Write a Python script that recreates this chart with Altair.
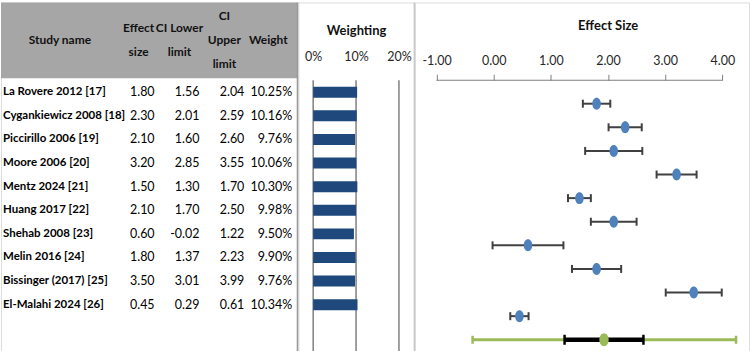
import altair as alt
import pandas as pd

# ---------------- data ----------------
studies = ["La Rovere 2012 [17]", "Cygankiewicz 2008 [18]", "Piccirillo 2006 [19]",
           "Moore 2006 [20]", "Mentz 2024 [21]", "Huang 2017 [22]", "Shehab 2008 [23]",
           "Melin 2016 [24]", "Bissinger (2017) [25]", "El-Malahi 2024 [26]"]
effect = [1.80, 2.30, 2.10, 3.20, 1.50, 2.10, 0.60, 1.80, 3.50, 0.45]
lower = [1.56, 2.01, 1.60, 2.85, 1.30, 1.70, -0.02, 1.37, 3.01, 0.29]
upper = [2.04, 2.59, 2.60, 3.55, 1.70, 2.50, 1.22, 2.23, 3.99, 0.61]
weight = [10.25, 10.16, 9.76, 10.06, 10.30, 9.98, 9.50, 9.90, 9.76, 10.34]

pooled_effect = 1.93
pooled_lower = 1.24
pooled_upper = 2.62
pred_lower = -0.37
pred_upper = 4.24

effect_ticks = [-1, 0, 1, 2, 3, 4]
weight_ticks = [0, 10, 20]

FONT = "Lato"

df = pd.DataFrame({"study": studies, "effect": effect, "lower": lower,
                   "upper": upper, "weight": weight})
df["row"] = list(range(len(studies)))

summary = pd.DataFrame({"effect": [pooled_effect], "lower": [pooled_lower],
                        "upper": [pooled_upper], "plo": [pred_lower], "phi": [pred_upper],
                        "row": [len(studies)]})

# ---------------- layout ----------------
H = 351
ROW_H = 23.67
TOP = 90.0
OFF = 11.5 / ROW_H
yscale = alt.Scale(domain=[-TOP / ROW_H, (H - TOP) / ROW_H], reverse=True, nice=False, zero=False)
Y = lambda f: alt.Y(f, type="quantitative", scale=yscale, axis=None)

one = pd.DataFrame({"a": [0]})

def fmt2(field):
    return (f"(datum.{field} < 0 ? '-' : '') + format(abs(datum.{field}), '.2f')")

# ---------------- table panel ----------------
base = alt.Chart(df)
hdr_bg = alt.Chart(one).mark_rect(color="#a6a6a6").encode(
    x=alt.value(0), x2=alt.value(297), y=alt.value(0), y2=alt.value(76))
border = alt.Chart(one).mark_rule(color="#9a9a9a", strokeWidth=2).encode(
    x=alt.value(297.5), y=alt.value(0), y2=alt.value(H))

def hdr(text, x, y, lh=24.2):
    return alt.Chart(one).mark_text(text=text, fontWeight="bold", fontSize=12, lineHeight=lh,
                                    align="center", baseline="middle", color="#111111").encode(
        x=alt.value(x), y=alt.value(y))

headers = [hdr("Study name", 59, 38), hdr(["Effect", "size"], 138, 25.7),
           hdr(["CI Lower", "limit"], 179, 25.7), hdr(["CI", "Upper", "limit"], 224, 13.4),
           hdr("Weight", 268, 38)]

names = base.mark_text(align="left", baseline="middle", fontWeight="bold", fontSize=11.5,
                       color="#000000").encode(x=alt.value(2), y=Y("row"), text="study:N")

def numcol(field, x):
    return base.transform_calculate(lbl=fmt2(field)).mark_text(
        align="right", baseline="middle", fontSize=12.5, color="#000000").encode(
        x=alt.value(x), y=Y("row"), text="lbl:N")

wcol = base.transform_calculate(wl="format(datum.weight, '.2f') + '%'").mark_text(
    align="right", baseline="middle", fontSize=12.5, color="#000000").encode(
    x=alt.value(292), y=Y("row"), text="wl:N")

table = alt.layer(hdr_bg, border, *headers, names, numcol("effect", 154),
                  numcol("lower", 199), numcol("upper", 244), wcol).properties(width=298, height=H)

# ---------------- weighting panel ----------------
wx = alt.Scale(domain=[-3.49, 23.72], nice=False, zero=False)
wax = alt.Axis(orient="top", values=weight_ticks, labelExpr="datum.value + '%'", ticks=False,
               domain=False, grid=False, offset=-78, labelPadding=24, labelBaseline="middle",
               labelFontSize=12.5, labelColor="#262626", labelFont=FONT,
               title="Weighting", titleFontSize=13, titleFontWeight="bold", titleColor="#111111",
               titleX=58, titleY=-49.5, titleBaseline="middle", titleAlign="center", titleFont=FONT)
grid = alt.Chart(pd.DataFrame({"g": weight_ticks})).mark_rule(color="#808080", strokeWidth=1.5).encode(
    x=alt.X("g:Q", scale=wx, axis=wax), y=alt.value(78), y2=alt.value(H))
bars = base.transform_calculate(z="0").mark_rule(color="#1f497d", strokeWidth=11).encode(
    x=alt.X("z:Q", scale=wx, axis=wax), x2="weight:Q", y=Y("row"))
divider = alt.Chart(one).mark_rule(color="#c4c4c4", strokeWidth=1.5).encode(
    x=alt.value(116.5), y=alt.value(0), y2=alt.value(H))
wpanel = alt.layer(grid, bars, divider).properties(width=117, height=H)

# ---------------- effect panel ----------------
ex = alt.Scale(domain=[-1.379, 4.467], nice=False, zero=False)
eax = alt.Axis(orient="top", values=effect_ticks,
               labelExpr="(datum.value < 0 ? '-' : '') + format(abs(datum.value), '.2f')",
               ticks=True, tickSize=6,
               tickColor="#808080", tickWidth=1, domain=False, grid=False, offset=-78,
               labelPadding=14, labelBaseline="middle", labelFontSize=12.5, labelColor="#262626",
               labelFont=FONT, title="Effect Size", titleFontSize=13, titleFontWeight="bold",
               titleColor="#111111", titleX=193.3, titleY=-54.5, titleBaseline="middle",
               titleAlign="center", titleFont=FONT)
X = lambda f: alt.X(f, type="quantitative", scale=ex, axis=eax)

ELLIPSE = "M0,-1A0.72,1,0,1,1,0,1A0.72,1,0,1,1,0,-1Z"
VLINE = "M0,-1L0,1"

axline = alt.Chart(pd.DataFrame({"a": [effect_ticks[0]], "b": [effect_ticks[-1]]})).mark_rule(
    color="#808080", strokeWidth=1).encode(x=X("a"), x2="b:Q", y=alt.value(78))

eb = base.transform_calculate(yd=f"datum.row + {OFF}")
ci = eb.mark_rule(color="#404040", strokeWidth=2).encode(x=X("lower"), x2="upper:Q", y=Y("yd"))
caps = eb.transform_fold(["lower", "upper"], as_=["k", "v"]).mark_point(
    shape=VLINE, size=64, filled=False, strokeWidth=2, color="#404040", opacity=1).encode(
    x=X("v"), y=Y("yd"))
dots = eb.mark_point(shape=ELLIPSE, size=144, filled=True, color="#4f81bd", opacity=1).encode(
    x=X("effect"), y=Y("yd"))

sb = alt.Chart(summary).transform_calculate(yd=f"datum.row + {OFF}")
pi = sb.mark_rule(color="#9bbb59", strokeWidth=3.2).encode(x=X("plo"), x2="phi:Q", y=Y("yd"))
pi_caps = sb.transform_fold(["plo", "phi"], as_=["k", "v"]).mark_point(
    shape=VLINE, size=64, filled=False, strokeWidth=2.5, color="#9bbb59", opacity=1).encode(
    x=X("v"), y=Y("yd"))
sci = sb.mark_rule(color="#000000", strokeWidth=4.5).encode(x=X("lower"), x2="upper:Q", y=Y("yd"))
sci_caps = sb.transform_fold(["lower", "upper"], as_=["k", "v"]).mark_point(
    shape=VLINE, size=100, filled=False, strokeWidth=2.5, color="#000000", opacity=1).encode(
    x=X("v"), y=Y("yd"))
sdot = sb.mark_point(shape=ELLIPSE, size=169, filled=True, color="#9bbb59", opacity=1).encode(
    x=X("effect"), y=Y("yd"))

epanel = alt.layer(axline, ci, caps, dots, pi, pi_caps, sci, sci_caps, sdot).properties(
    width=335, height=H)

chart = alt.hconcat(table, wpanel, epanel, spacing=0, bounds="flush").resolve_scale(
    x="independent", y="independent").properties(padding=0).configure_view(
    stroke=None).configure(font=FONT, background="white")

chart.save("out.html", embed_options={"renderer": "svg", "actions": False})
